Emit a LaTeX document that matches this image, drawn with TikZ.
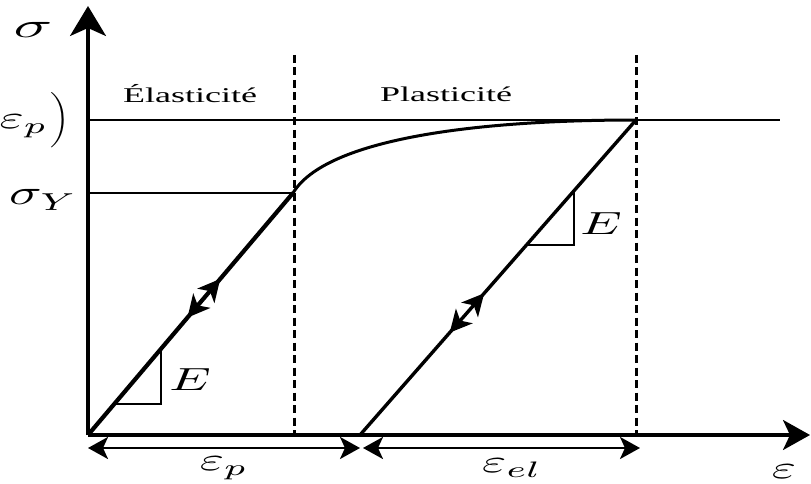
\documentclass[tikz,border=0pt]{standalone}
\usepackage{fontspec}
\setmainfont{Liberation Serif}
\usetikzlibrary{arrows.meta,decorations.markings}
\newcommand{\mlab}[1]{\scalebox{5.2}[3.2]{$#1$}}
\newcommand{\slab}[1]{\scalebox{6.4}[3.5]{$#1$}}
\newcommand{\ylab}[1]{\scalebox{5.4}[3.5]{$#1$}}
\newcommand{\tlab}[1]{\scalebox{3.6}[2.1]{#1}}
\tikzset{
  bigtip/.tip={Stealth[length=27pt,width=30pt,inset=7pt]},
  uptip/.tip={Stealth[length=30pt,width=36pt,inset=8pt]},
  dimtip/.tip={Stealth[length=20pt,width=22pt,inset=5pt]},
  midtip/.tip={Stealth[length=22pt,width=22pt,inset=6pt]}}
\begin{document}
\begin{tikzpicture}[x=1pt,y=-1pt,
  thinline/.style={line width=1.8pt},
  axisline/.style={line width=3.2pt},
  dashline/.style={line width=3pt,dash pattern=on 8pt off 4.5pt},
  lbl/.style={inner sep=0pt}]
\useasboundingbox (0,0) rectangle (811,484);
\clip (0,0) rectangle (811,484);
% key points
\coordinate (O) at (88,435);
\coordinate (ytip) at (88,6);
\coordinate (xtip) at (810,435);
\coordinate (Y) at (293,193);
\coordinate (P) at (636,120);
\coordinate (A) at (360,435);
\coordinate (Yl) at (88,193);
\coordinate (Pl) at (88,120);
\coordinate (Pr) at (780,120);
\coordinate (d1t) at (294,55);
\coordinate (d1b) at (294,435);
\coordinate (d2t) at (636,55);
\coordinate (d2b) at (636,435);
\coordinate (t1a) at (114.3,404);
\coordinate (t1b) at (161,404);
\coordinate (t1c) at (161,348.8);
\coordinate (t2a) at (526.5,245);
\coordinate (t2b) at (574,245);
\coordinate (t2c) at (574,190.8);
\coordinate (b1l) at (88,448);
\coordinate (b1r) at (360,448);
\coordinate (b2l) at (363,448);
\coordinate (b2r) at (640,448);
% reference lines
\draw[thinline] (Pl) -- (Pr);
\draw[thinline] (Yl) -- (Y);
\draw[dashline] (d1t) -- (d1b);
\draw[dashline] (d2t) -- (d2b);
% slope triangles
\draw[thinline] (t1a) -- (t1b) -- (t1c);
\draw[thinline] (t2a) -- (t2b) -- (t2c);
% elastic loading / unloading lines
\draw[line width=4.2pt, postaction={decorate}, decoration={markings,
  mark=at position 0.645 with {\arrow{midtip}},
  mark=at position 0.485 with {\arrowreversed{midtip}}}] (O) -- (Y);
\draw[line width=3.4pt, postaction={decorate}, decoration={markings,
  mark=at position 0.45 with {\arrow{midtip}},
  mark=at position 0.325 with {\arrowreversed{midtip}}}] (A) -- (P);
% hardening curve
\draw[line width=3pt] (Y) .. controls (325,140) and (470,120) .. (P);
% axes
\draw[axisline, -{uptip}] (O) -- (ytip);
\draw[axisline, -{bigtip}] (O) -- (xtip);
% strain dimension arrows
\draw[line width=2.6pt, {dimtip}-{dimtip}] (b1l) -- (b1r);
\draw[line width=2.6pt, {dimtip}-{dimtip}] (b2l) -- (b2r);
% labels
\node[lbl] (sig) at (33,30) {\slab{\sigma}};
\node[lbl,anchor=west] (sigY) at (9,200) {\ylab{\sigma_Y}};
\node[lbl,anchor=east] (sigP) at (48,121) {\mlab{\sigma(\varepsilon_p}};
\node[lbl,anchor=west] (par) at (50,120) {\scalebox{2.6}[2.3]{$\bigg)$}};
\node[lbl] (elas) at (190,94) {\tlab{Élasticité}};
\node[lbl] (plas) at (446,94) {\tlab{Plasticité}};
\node[lbl] (E1) at (190,380) {\mlab{E}};
\node[lbl] (E2) at (601,224) {\mlab{E}};
\node[lbl] (ep) at (224,468) {\mlab{\varepsilon_p}};
\node[lbl] (eel) at (512,468) {\mlab{\varepsilon_{el}}};
\node[lbl] (eps) at (784,472) {\mlab{\varepsilon}};
\end{tikzpicture}
\end{document}
